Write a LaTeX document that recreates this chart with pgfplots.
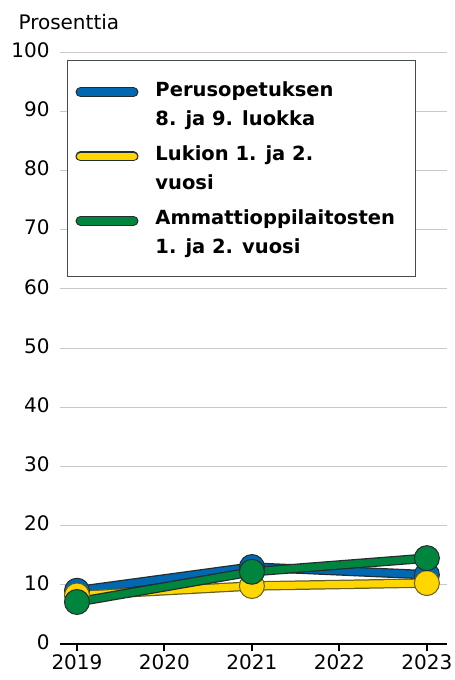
\documentclass[border=0pt]{standalone}
\usepackage{pgfplots}
\pgfplotsset{compat=1.18}
\usepackage{fontspec}
\setmainfont{DejaVu Sans}
\definecolor{cblue}{RGB}{0,103,177}
\definecolor{cyel}{RGB}{255,214,0}
\definecolor{cgreen}{RGB}{0,133,62}
\definecolor{cdark}{RGB}{35,45,45}
\definecolor{cgrid}{RGB}{200,200,200}
\begin{document}
\begin{tikzpicture}
\begin{axis}[
  scale only axis, width=387pt, height=592pt,
  at={(0,0)}, anchor=south west,
  xmin=2018.806, xmax=2023.23, ymin=0, ymax=100,
  xtick={2019,2020,2021,2022,2023},
  ytick={0,10,...,100},
  clip=false,
  axis x line*=bottom,
  axis y line*=left,
  y axis line style={draw=none},
  x axis line style={black, line width=2pt, -},
  ymajorgrids, grid style={cgrid, line width=0.9pt},
  xtick style={black, line width=2pt},
  major tick length=7pt, tick align=outside,
  ytick style={draw=none},
  /pgf/number format/assume math mode=true,
  xticklabel style={/pgf/number format/1000 sep=},
  tick label style={font=\fontsize{20}{24}\selectfont},
  yticklabel style={anchor=east, yshift=2pt},
  legend style={at={(rel axis cs:0,1)}, anchor=north west, xshift=7pt, yshift=-8pt,
    draw=cdark!85, line width=1pt, fill=white,
    font=\bfseries\fontsize{19.5}{29}\selectfont,
    inner xsep=8pt, inner ysep=19pt, row sep=15pt,
    cells={align=left}},
  legend cell align=left,
  legend image code/.code={
    \path[draw=none] (0pt,0pt) -- (75pt,0pt);
    \draw[line width=10pt, cdark, line cap=round] (2pt,12pt) -- (55pt,12pt);
    \draw[line cap=round, line width=7.5pt] (2pt,12pt) -- (55pt,12pt);
  },
]
\addplot[cdark, line width=9.5pt, forget plot] coordinates {(2019,9.0) (2021,13.0) (2023,11.7)};
\addplot[cblue, line width=7pt, mark=*, mark size=12.5pt, mark options={fill=cblue, draw=cdark, line width=1pt}] coordinates {(2019,9.0) (2021,13.0) (2023,11.7)};
\addlegendentry{Perusopetuksen\\8. ja 9. luokka}
\addplot[cdark!70!cyel, line width=9.5pt, forget plot] coordinates {(2019,8.2) (2021,9.8) (2023,10.3)};
\addplot[cyel, line width=7pt, mark=*, mark size=12.5pt, mark options={fill=cyel, draw=cdark!70!cyel, line width=1pt}] coordinates {(2019,8.2) (2021,9.8) (2023,10.3)};
\addlegendentry{Lukion 1. ja 2.\\vuosi}
\addplot[cdark, line width=9.5pt, forget plot] coordinates {(2019,7.1) (2021,12.2) (2023,14.5)};
\addplot[cgreen, line width=7pt, mark=*, mark size=12.5pt, mark options={fill=cgreen, draw=cdark, line width=1pt}] coordinates {(2019,7.1) (2021,12.2) (2023,14.5)};
\addlegendentry{Ammattioppilaitosten\rule{11pt}{0pt}\\1. ja 2. vuosi}
\node[anchor=base west, font=\fontsize{20}{24}\selectfont] at (rel axis cs:0,1) [xshift=-45pt, yshift=22pt] {Prosenttia};
\end{axis}
\pgfresetboundingbox
\path[use as bounding box] (-60pt,-36pt) rectangle (395pt,644pt);
\end{tikzpicture}
\end{document}
